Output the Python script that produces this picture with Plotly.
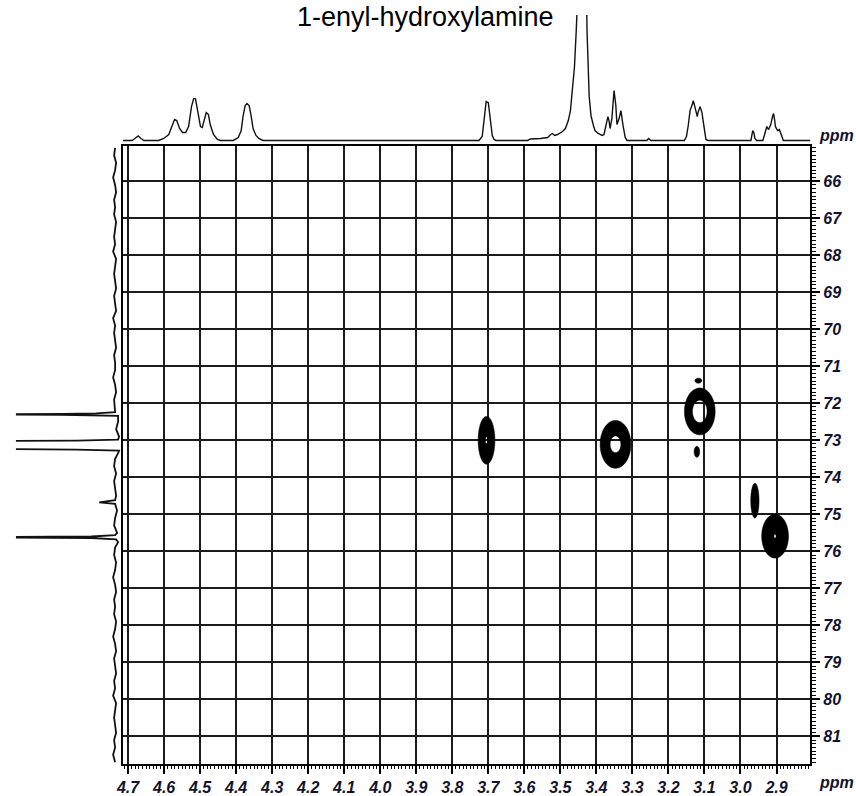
import numpy as np
import plotly.graph_objects as go

TITLE = "1-enyl-hydroxylamine"
AXIS_UNIT = "ppm"

# ---- tick values ----
H_TICK0, H_DTICK = 2.9, 0.1      # 1H axis (bottom)
C_TICK0, C_DTICK = 66, 1         # 13C axis (right)
H_RANGE = [4.714, 2.806]
C_RANGE = [81.75, 65.06]

# ---- 1H projection (top trace): ppm, intensity ----
H1_PPM = [4.714, 4.689, 4.681, 4.672, 4.664, 4.656, 4.615, 4.601, 4.587, 4.579,
          4.571, 4.565, 4.557, 4.549, 4.540, 4.532, 4.524, 4.518, 4.513, 4.507,
          4.499, 4.494, 4.488, 4.483, 4.477, 4.472, 4.463, 4.452, 4.444, 4.408,
          4.394, 4.386, 4.381, 4.375, 4.370, 4.364, 4.359, 4.353, 4.345, 4.337,
          4.326,
          3.726, 3.717, 3.712, 3.706, 3.700, 3.695, 3.689, 3.684, 3.679,
          3.591, 3.583, 3.555, 3.535, 3.527, 3.522, 3.516, 3.508, 3.494, 3.486,
          3.478, 3.472, 3.467, 3.461, 3.456, 3.453, 3.441, 3.428, 3.426, 3.420,
          3.415, 3.409, 3.404, 3.395, 3.384, 3.379, 3.373, 3.368, 3.365, 3.362,
          3.357, 3.351, 3.346, 3.343, 3.337, 3.332, 3.326, 3.320, 3.315,
          3.260, 3.255, 3.249,
          3.156, 3.150, 3.145, 3.140, 3.134, 3.131, 3.126, 3.120, 3.118, 3.112,
          3.107, 3.101, 3.096, 3.090,
          2.971, 2.969, 2.966, 2.963, 2.960, 2.955,
          2.938, 2.933, 2.927, 2.922, 2.916, 2.911, 2.908, 2.905, 2.903, 2.897,
          2.892, 2.886, 2.881, 2.806]
H1_INT = [0, 0, 2, 4.5, 2, 0, 0, 2, 6, 14,
          21, 20, 12, 8, 8, 14, 34, 42, 42, 30,
          14, 13, 22, 28, 26, 16, 6, 1, 0, 0,
          3, 10, 24, 35, 37, 35, 26, 12, 5, 2,
          0,
          0, 4, 22, 39, 38, 22, 5, 1, 0,
          0, 1.5, 2, 3, 6, 7, 5, 6, 9, 12,
          20, 30, 50, 73, 110, 160, 240, 160, 110, 44,
          25, 16, 10, 7, 5, 6, 15, 24, 20, 12,
          22, 50, 35, 16, 22, 30, 15, 3, 0,
          0, 2, 0,
          0, 4, 15, 30, 36, 40, 33, 24, 28, 34,
          28, 10, 1, 0,
          0, 4, 10, 8, 2, 0,
          0, 6, 14, 11, 16, 24, 27, 20, 14, 10,
          11, 5, 0, 0]

# ---- 13C projection (left trace) ----
C13_BASE_PPM = [65.1, 65.3, 65.5, 65.7, 65.9, 66.1, 66.3, 66.5, 66.7, 66.9,
                67.1, 67.3, 67.5, 67.7, 67.9, 68.1, 68.3, 68.5, 68.7, 68.9,
                69.1, 69.3, 69.5, 69.7, 69.9, 70.1, 70.3, 70.5, 70.7, 70.9,
                71.1, 71.3, 71.5, 71.7, 71.9, 72.1,
                72.5, 72.7, 72.9,
                73.35, 73.5, 73.7, 73.9,
                74.1, 74.3, 74.5, 74.9,
                75.1, 75.3, 75.5, 75.75, 75.9,
                76.1, 76.3, 76.5, 76.7, 76.9, 77.1, 77.3, 77.5, 77.7, 77.9,
                78.1, 78.3, 78.5, 78.7, 78.9, 79.1, 79.3, 79.5, 79.7, 79.9,
                80.1, 80.3, 80.5, 80.7, 80.9, 81.1, 81.3, 81.5, 81.7]
C13_BASE_INT = [1, 2, 0, 1, 3, 1, 0, 2, 1, 2,
                0, 1, 2, 1, 3, 0, 1, 2, 1, 0,
                2, 1, 0, 3, 1, 2, 1, 0, 2, 1,
                1, 3, 1, 0, 2, 1,
                -2, 0, -3,
                -2, 1, 2, 0,
                2, 1, 0, -1,
                1, 2, -1, -2, 1,
                2, 0, 1, 3, 1, 0, 2, 1, 2, 0,
                1, 3, 1, 0, 2, 1, 0, 2, 1, 3,
                0, 1, 2, 1, 0, 2, 1, 3, 1]
C13_PK_PPM = [72.24, 72.27, 72.29, 72.30, 72.31, 72.34,
              72.98, 73.01, 73.03, 73.13, 73.22, 73.25, 73.28,
              74.62, 74.66, 74.68, 74.72,
              75.56, 75.60, 75.62, 75.64, 75.68]
C13_PK_INT = [1, 20, 53, 150, 55, -2,
              -2, 40, 200, 300, 200, 40, -3,
              1, 17, 17, 1,
              1, 25, 150, 25, 0]

# ---- HSQC cross peaks: centre (1H, 13C), amplitude, widths ----
XP_H = [3.705, 3.347, 3.113, 2.960, 2.904, 3.121, 3.117]
XP_C = [73.00, 73.11, 72.22, 74.63, 75.59, 73.31, 71.39]
XP_AMP = [2.03, 2.2, 2.45, 1.6, 2.01, 1.5, 1.3]
XP_SH = [0.0196, 0.0340, 0.0319, 0.0119, 0.0315, 0.0086, 0.0133]
XP_SC = [0.542, 0.515, 0.473, 0.485, 0.502, 0.165, 0.093]
LEVELS = [1.0, 2.0]

W, H = 856, 796
def px_x(a, b):
    return [a / W, b / W]
def px_y(top, bottom):
    return [(H - bottom) / H, (H - top) / H]

LINE = "#111111"
LABEL_COL = "#12122e"
tickfont = dict(family="Liberation Sans, Arial, sans-serif", size=16,
                color=LABEL_COL, weight="bold", style="italic")

fig = go.Figure()

# cross peaks: each drawn as the black band between the two contour levels
for h0, c0, a, sh, sc in zip(XP_H, XP_C, XP_AMP, XP_SH, XP_SC):
    hg = np.linspace(h0 - 3.2 * sh, h0 + 3.2 * sh, 121)
    cg = np.linspace(c0 - 3.2 * sc, c0 + 3.2 * sc, 121)
    HH, CC = np.meshgrid(hg, cg)
    Z = a * np.exp(-0.5 * (((HH - h0) / sh) ** 2 + ((CC - c0) / sc) ** 2))
    fig.add_trace(go.Contour(
        x=hg, y=cg, z=Z, xaxis="x", yaxis="y",
        contours=dict(type="constraint", operation="][", value=LEVELS),
        fillcolor="black", line=dict(color="black", width=0.5),
        showscale=False, hoverinfo="skip", showlegend=False))

# top 1H projection
fig.add_trace(go.Scatter(x=H1_PPM, y=H1_INT, xaxis="x2", yaxis="y2",
                         mode="lines", line=dict(color=LINE, width=1.4),
                         hoverinfo="skip", showlegend=False))

# left 13C projection
c_ppm = C13_BASE_PPM + C13_PK_PPM
c_int = C13_BASE_INT + C13_PK_INT
order = np.argsort(c_ppm)
fig.add_trace(go.Scatter(x=[c_int[i] for i in order], y=[c_ppm[i] for i in order],
                         xaxis="x3", yaxis="y3",
                         mode="lines", line=dict(color=LINE, width=1.8),
                         hoverinfo="skip", showlegend=False))

fig.update_layout(
    width=W, height=H,
    margin=dict(l=0, r=0, t=0, b=0),
    paper_bgcolor="white", plot_bgcolor="white",
    showlegend=False,
    xaxis=dict(domain=px_x(117, 810), range=H_RANGE, anchor="y",
               tickmode="linear", tick0=H_TICK0, dtick=H_DTICK, tickformat=".1f",
               ticks="outside", ticklen=8, tickwidth=1.5, tickcolor="black",
               showline=True, mirror=True, linecolor="black", linewidth=1.5,
               showgrid=True, gridcolor="#1c1c1c", gridwidth=1.6, zeroline=False,
               tickfont=tickfont,
               minor=dict(tickmode="linear", tick0=H_TICK0, dtick=0.01, ticks="outside",
                          ticklen=3, tickwidth=1, tickcolor="black", showgrid=False)),
    yaxis=dict(domain=px_y(147, 767), range=C_RANGE, anchor="x", side="right",
               tickmode="linear", tick0=C_TICK0, dtick=C_DTICK,
               ticks="outside", ticklen=8, tickwidth=1.5, tickcolor="black",
               showline=True, mirror=True, linecolor="black", linewidth=1.5,
               showgrid=True, gridcolor="#1c1c1c", gridwidth=1.6, zeroline=False,
               tickfont=tickfont,
               minor=dict(tickmode="linear", tick0=C_TICK0, dtick=0.1, ticks="outside",
                          ticklen=4, tickwidth=1, tickcolor="black", showgrid=False)),
    xaxis2=dict(domain=px_x(117, 810), matches="x", anchor="y2", visible=False),
    yaxis2=dict(domain=px_y(15, 145), range=[-4, 126], anchor="x2", visible=False),
    xaxis3=dict(domain=px_x(9, 117), range=[101, -7], anchor="y3", visible=False),
    yaxis3=dict(domain=px_y(147, 767), matches="y", anchor="x3", visible=False),
    annotations=[
        dict(text=TITLE, x=422 / W, y=1.0, xref="paper", yref="paper",
             xanchor="center", yanchor="top", showarrow=False,
             font=dict(family="Liberation Sans, Arial, sans-serif", size=27, color="black")),
        dict(text=AXIS_UNIT, x=836 / W, y=(H - 136) / H, xref="paper", yref="paper",
             xanchor="center", yanchor="middle", showarrow=False, font=tickfont),
        dict(text=AXIS_UNIT, x=836 / W, y=(H - 785) / H, xref="paper", yref="paper",
             xanchor="center", yanchor="middle", showarrow=False, font=tickfont),
    ],
)

fig.write_html("out.html")
